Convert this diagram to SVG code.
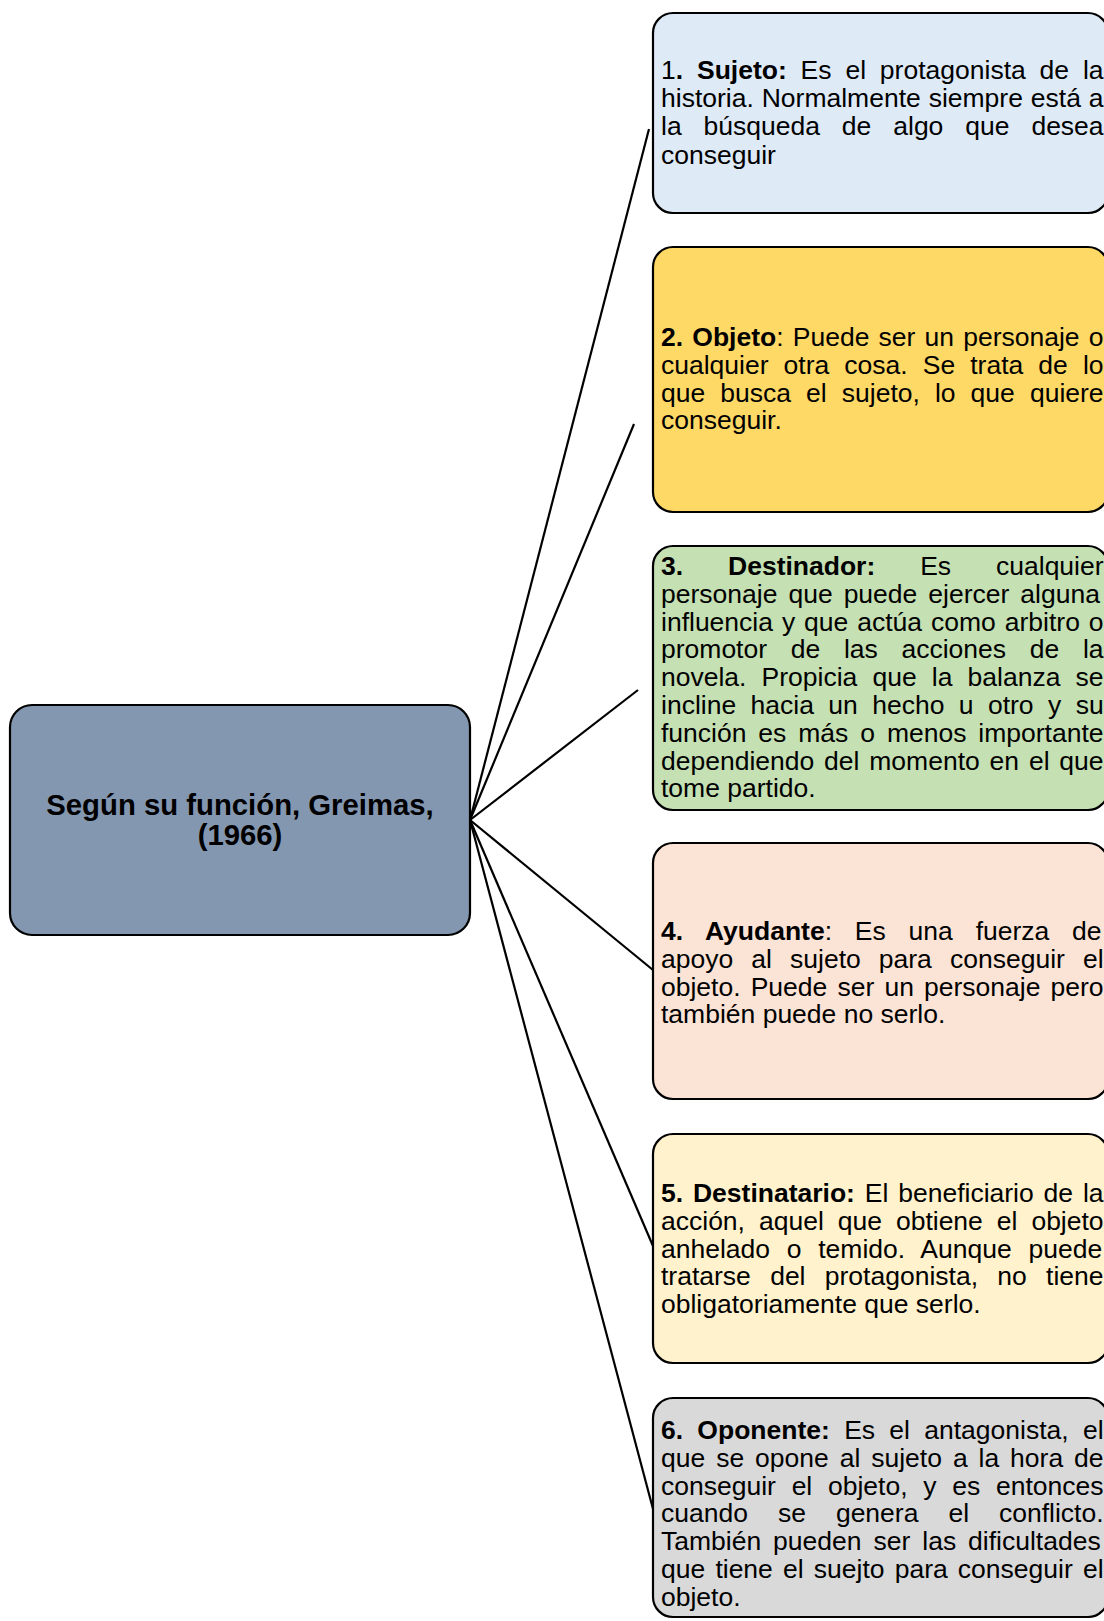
<svg xmlns="http://www.w3.org/2000/svg" width="1104" height="1621" viewBox="0 0 1104 1621">
<style>
.box{stroke:#000;stroke-width:2.2}
.t{font-family:"Liberation Sans",Arial,sans-serif;font-size:26.5px;fill:#000}
.b{font-weight:bold}
.c{font-family:"Liberation Sans",Arial,sans-serif;font-size:29.3px;font-weight:bold;fill:#000;text-anchor:middle}
.ln{stroke:#000;stroke-width:2.2;fill:none}
</style>
<rect width="1104" height="1621" fill="#fff"/>
<g id="connectors">
<line class="ln" x1="470" y1="820" x2="649" y2="129"/>
<line class="ln" x1="470" y1="820" x2="634" y2="424"/>
<line class="ln" x1="470" y1="820" x2="638" y2="690"/>
<line class="ln" x1="470" y1="820" x2="653" y2="970"/>
<line class="ln" x1="470" y1="820" x2="653" y2="1246"/>
<line class="ln" x1="470" y1="820" x2="653" y2="1509"/>
</g>
<g id="root">
<rect class="box" x="10" y="705" width="460" height="230" rx="22" fill="#8497B0"/>
<text class="c" x="240" y="815">Según su función, Greimas,</text>
<text class="c" x="240" y="845">(1966)</text>
</g>
<g id="sujeto">
<rect class="box" x="653" y="13" width="455" height="200" rx="20" fill="#DEEAF6"/>
<text class="t" x="661" y="79" style="word-spacing:6.49px">1<tspan class="b">. Sujeto:</tspan> Es el protagonista de la</text>
<text class="t" x="661" y="107.2" style="word-spacing:0.55px">historia. Normalmente siempre está a</text>
<text class="t" x="661" y="135.4" style="word-spacing:14.55px">la búsqueda de algo que desea</text>
<text class="t" x="661" y="163.6">conseguir</text>
</g>
<g id="objeto">
<rect class="box" x="653" y="247" width="455" height="265" rx="20" fill="#FFD966"/>
<text class="t" x="661" y="346" style="word-spacing:1.82px"><tspan class="b">2. Objeto</tspan>: Puede ser un personaje o</text>
<text class="t" x="661" y="373.8" style="word-spacing:7.71px">cualquier otra cosa. Se trata de lo</text>
<text class="t" x="661" y="401.6" style="word-spacing:7.71px">que busca el sujeto, lo que quiere</text>
<text class="t" x="661" y="429.4">conseguir.</text>
</g>
<g id="destinador">
<rect class="box" x="653" y="546" width="455" height="264" rx="20" fill="#C5E0B3"/>
<text class="t" x="661" y="575" style="word-spacing:37.55px"><tspan class="b">3. Destinador:</tspan> Es cualquier</text>
<text class="t" x="661" y="602.8" style="word-spacing:3.65px">personaje que puede ejercer alguna</text>
<text class="t" x="661" y="630.6" style="word-spacing:1.58px">influencia y que actúa como arbitro o</text>
<text class="t" x="661" y="658.4" style="word-spacing:16.33px">promotor de las acciones de la</text>
<text class="t" x="661" y="686.2" style="word-spacing:7.78px">novela. Propicia que la balanza se</text>
<text class="t" x="661" y="714" style="word-spacing:7.04px">incline hacia un hecho u otro y su</text>
<text class="t" x="661" y="741.8" style="word-spacing:4.55px">función es más o menos importante</text>
<text class="t" x="661" y="769.6" style="word-spacing:2.47px">dependiendo del momento en el que</text>
<text class="t" x="661" y="797.4">tome partido.</text>
</g>
<g id="ayudante">
<rect class="box" x="653" y="843" width="455" height="256" rx="20" fill="#FBE4D5"/>
<text class="t" x="661" y="940" style="word-spacing:15.45px"><tspan class="b">4. Ayudante</tspan>: Es una fuerza de</text>
<text class="t" x="661" y="967.8" style="word-spacing:10.73px">apoyo al sujeto para conseguir el</text>
<text class="t" x="661" y="995.6" style="word-spacing:2.77px">objeto. Puede ser un personaje pero</text>
<text class="t" x="661" y="1023.4">también puede no serlo.</text>
</g>
<g id="destinatario">
<rect class="box" x="653" y="1134" width="455" height="229" rx="20" fill="#FFF2CC"/>
<text class="t" x="661" y="1202" style="word-spacing:2.49px"><tspan class="b">5. Destinatario:</tspan> El beneficiario de la</text>
<text class="t" x="661" y="1229.8" style="word-spacing:6.6px">acción, aquel que obtiene el objeto</text>
<text class="t" x="661" y="1257.6" style="word-spacing:9.35px">anhelado o temido. Aunque puede</text>
<text class="t" x="661" y="1285.4" style="word-spacing:11.94px">tratarse del protagonista, no tiene</text>
<text class="t" x="661" y="1313.2">obligatoriamente que serlo.</text>
</g>
<g id="oponente">
<rect class="box" x="653" y="1398" width="455" height="219" rx="20" fill="#D9D9D9"/>
<text class="t" x="661" y="1439" style="word-spacing:6.91px"><tspan class="b">6. Oponente:</tspan> Es el antagonista, el</text>
<text class="t" x="661" y="1466.8" style="word-spacing:3.57px">que se opone al sujeto a la hora de</text>
<text class="t" x="661" y="1494.6" style="word-spacing:8.37px">conseguir el objeto, y es entonces</text>
<text class="t" x="661" y="1522.4" style="word-spacing:22.62px">cuando se genera el conflicto.</text>
<text class="t" x="661" y="1550.2" style="word-spacing:4.59px">También pueden ser las dificultades</text>
<text class="t" x="661" y="1578" style="word-spacing:2.8px">que tiene el suejto para conseguir el</text>
<text class="t" x="661" y="1605.8">objeto.</text>
</g>
</svg>
